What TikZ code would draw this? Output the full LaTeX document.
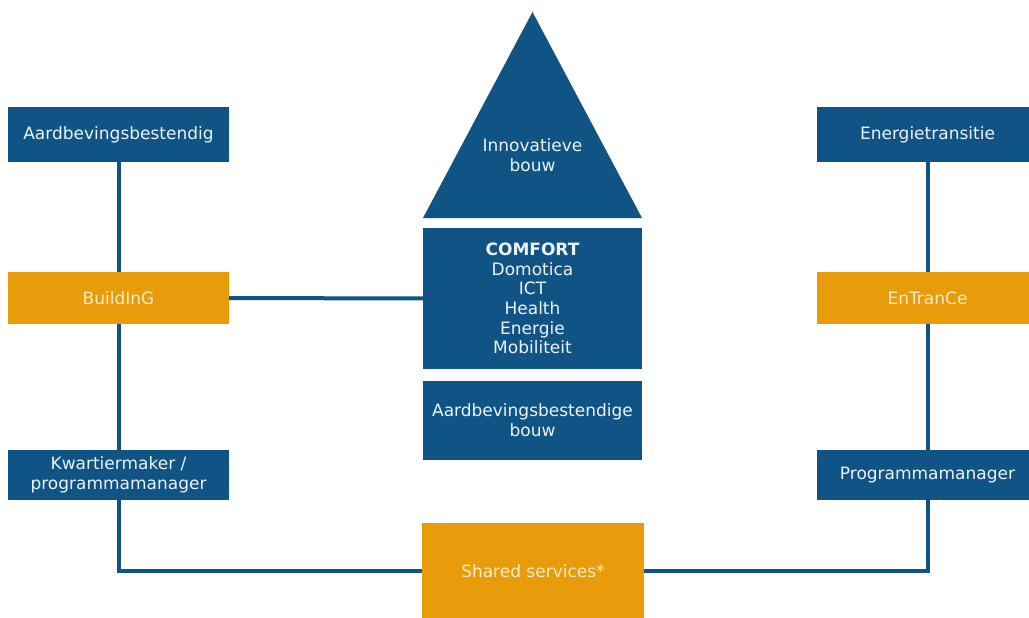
\documentclass[tikz,border=0pt]{standalone}
\usepackage{fontspec}
\setmainfont{DejaVu Sans}
\usepackage{xcolor}
\definecolor{bouwblauw}{RGB}{15,84,132}
\definecolor{bouworanje}{RGB}{232,156,10}
\definecolor{roomtekst}{RGB}{250,236,200}
\definecolor{lichttekst}{RGB}{238,242,246}
\begin{document}
\begin{tikzpicture}[x=1pt,y=-1pt,
		blok/.style={fill=bouwblauw,text=lichttekst,inner sep=0pt,align=center,minimum width=221pt,font=\fontsize{17}{19.7}\selectfont},
		oranjeblok/.style={blok,fill=bouworanje,text=roomtekst},
		lijn/.style={draw=bouwblauw,line width=4pt}]
			\useasboundingbox (0,0) rectangle (1029,618);
			\fill[white] (0,0) rectangle (1029,618);
			\node[blok,minimum height=55pt] (aard) at (118.5,134.5) {Aardbevingsbestendig};
			\node[oranjeblok,minimum height=52pt] (building) at (118.5,298) {BuildInG};
			\node[blok,minimum height=50pt] (kwartier) at (118.5,475) {Kwartiermaker /\\programmamanager};
			\node[blok,minimum height=55pt] (energie) at (927.5,134.5) {Energietransitie};
			\node[oranjeblok,minimum height=52pt] (entrance) at (927.5,298) {EnTranCe};
			\node[blok,minimum height=50pt] (progman) at (927.5,475) {Programmamanager};
			\coordinate (top) at (532.5,12);
			\coordinate (basisl) at (423,218);
			\coordinate (basisr) at (642,218);
			\fill[bouwblauw] (basisl) -- (top) -- (basisr) -- cycle;
			\node[text=lichttekst,align=center,font=\fontsize{17}{19.7}\selectfont] (innovatief) at (532.5,155) {Innovatieve\\bouw};
			\node[blok,minimum width=219pt,minimum height=141pt] (comfort) at (532.5,298.5) {\textbf{COMFORT}\\Domotica\\ICT\\Health\\Energie\\Mobiliteit};
			\node[blok,minimum width=219pt,minimum height=79pt] (aardbouw) at (532.5,420.5) {Aardbevingsbestendige\\bouw};
			\node[oranjeblok,minimum width=222pt,minimum height=96pt] (shared) at (533,571) {Shared services*};
			\draw[lijn] (aard) -- (building);
			\draw[lijn] (building) -- (kwartier);
			\draw[lijn] (building) -- (comfort);
			\draw[lijn] (energie) -- (entrance);
			\draw[lijn] (entrance) -- (progman);
			\draw[lijn] (kwartier) |- (shared);
			\draw[lijn] (progman) |- (shared);
\end{tikzpicture}
\end{document}
